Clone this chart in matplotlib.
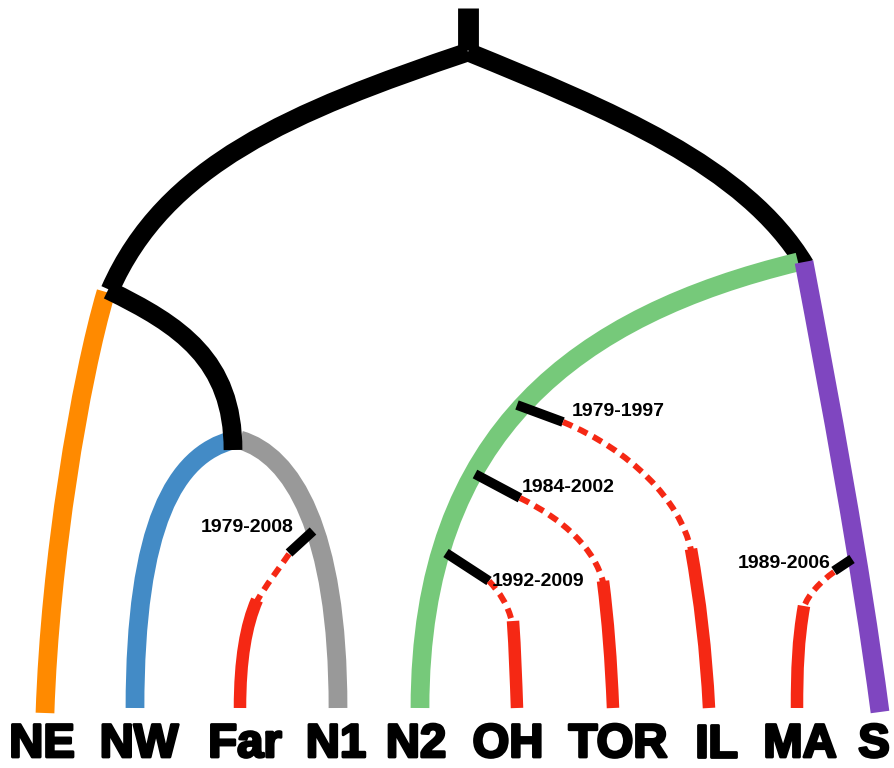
import matplotlib
matplotlib.use("Agg")
import matplotlib.pyplot as plt
from matplotlib.path import Path
from matplotlib.patches import PathPatch
import matplotlib.patheffects as pe

# leaf labels along the bottom
leaves = ["NE", "NW", "Far", "N1", "N2", "OH", "TOR", "IL", "MA", "S"]
leaf_x = [42, 139, 245, 336, 416, 508, 618, 716, 800, 874]

# colours
BLACK = "#000000"
RED = "#f52814"
colors = {"NE": "#ff8a00", "NW": "#438bc6", "N1": "#999999",
          "N2": "#76c97a", "S": "#7f46c0"}

# main tree (cubic bezier control points, pixel coords)
root_stem = [(468, 8), (468, 50)]
top_left = [(468, 52), (290, 112), (165, 165), (110, 290)]
top_right = [(468, 52), (610, 110), (745, 165), (805, 265)]
left_inner = [(108, 290), (180, 325), (233, 360), (233, 450)]
branches = {
    "NE": [(106, 292), (80, 380), (50, 560), (45, 713)],
    "NW": [(233, 440), (175, 455), (135, 525), (135, 708)],
    "N1": [(240, 440), (292, 455), (338, 530), (338, 708)],
    "N2": [(798, 262), (580, 315), (420, 430), (420, 708)],
    "S": [(804, 262), (830, 400), (860, 560), (880, 712)],
}

# introduced populations: black stub, dashed gap, solid red branch
intervals = ["1979-2008", "1979-1997", "1984-2002", "1992-2009", "1989-2006"]
stub = [[(313, 531), (289, 553)],
        [(517, 405), (563, 422)],
        [(475, 474), (520, 498)],
        [(446, 553), (489, 581)],
        [(852, 559), (834, 571)]]
dashed = [[(289, 554), (278, 570), (266, 585), (257, 601)],
          [(563, 422), (630, 450), (680, 500), (691, 550)],
          [(520, 498), (565, 520), (595, 550), (603, 582)],
          [(489, 581), (500, 593), (508, 605), (512, 622)],
          [(834, 572), (820, 582), (808, 595), (804, 607)]]
solid = [[(257, 600), (246, 625), (240, 660), (240, 708)],
         [(691, 549), (700, 600), (706, 650), (709, 708)],
         [(603, 581), (608, 620), (611, 660), (613, 708)],
         [(513, 621), (515, 650), (516, 680), (517, 708)],
         [(804, 606), (798, 640), (797, 670), (797, 708)]]
label_xy = [(247, 527), (618, 411), (568, 488), (538, 582), (784, 563)]


def draw(ax, pts, color, lw, dash=None, z=2):
    if len(pts) == 4:
        codes = [Path.MOVETO, Path.CURVE4, Path.CURVE4, Path.CURVE4]
    else:
        codes = [Path.MOVETO] + [Path.LINETO] * (len(pts) - 1)
    ls = (0, dash) if dash else "solid"
    ax.add_patch(PathPatch(Path(pts, codes), fill=False, edgecolor=color,
                           lw=lw, linestyle=ls, capstyle="butt",
                           joinstyle="round", zorder=z))


fig = plt.figure(figsize=(8.94, 7.68), dpi=100)
ax = fig.add_axes([0, 0, 1, 1])
ax.set_xlim(0, 894)
ax.set_ylim(768, 0)
ax.axis("off")

draw(ax, root_stem, BLACK, 15)
draw(ax, top_left, BLACK, 13.5)
draw(ax, top_right, BLACK, 13.5)
for name in ["NE", "NW", "N1", "N2", "S"]:
    draw(ax, branches[name], colors[name], 13.5, z=3)
draw(ax, left_inner, BLACK, 13.5, z=4)

for i in range(len(intervals)):
    draw(ax, stub[i], BLACK, 7, z=5)
    draw(ax, dashed[i], RED, 4.3, dash=(1.7, 1.1), z=5)
    draw(ax, solid[i], RED, 9, z=5)
    ax.text(label_xy[i][0], label_xy[i][1], intervals[i], ha="center",
            va="center", fontsize=14, fontweight="bold",
            family="Liberation Sans", color=BLACK, zorder=6)

for name, x in zip(leaves, leaf_x):
    ax.text(x, 757, name, ha="center", va="baseline", fontsize=34,
            fontweight="bold", family="Liberation Sans", color=BLACK,
            path_effects=[pe.withStroke(linewidth=2, foreground=BLACK)])

fig.savefig("out.png", dpi=100)
